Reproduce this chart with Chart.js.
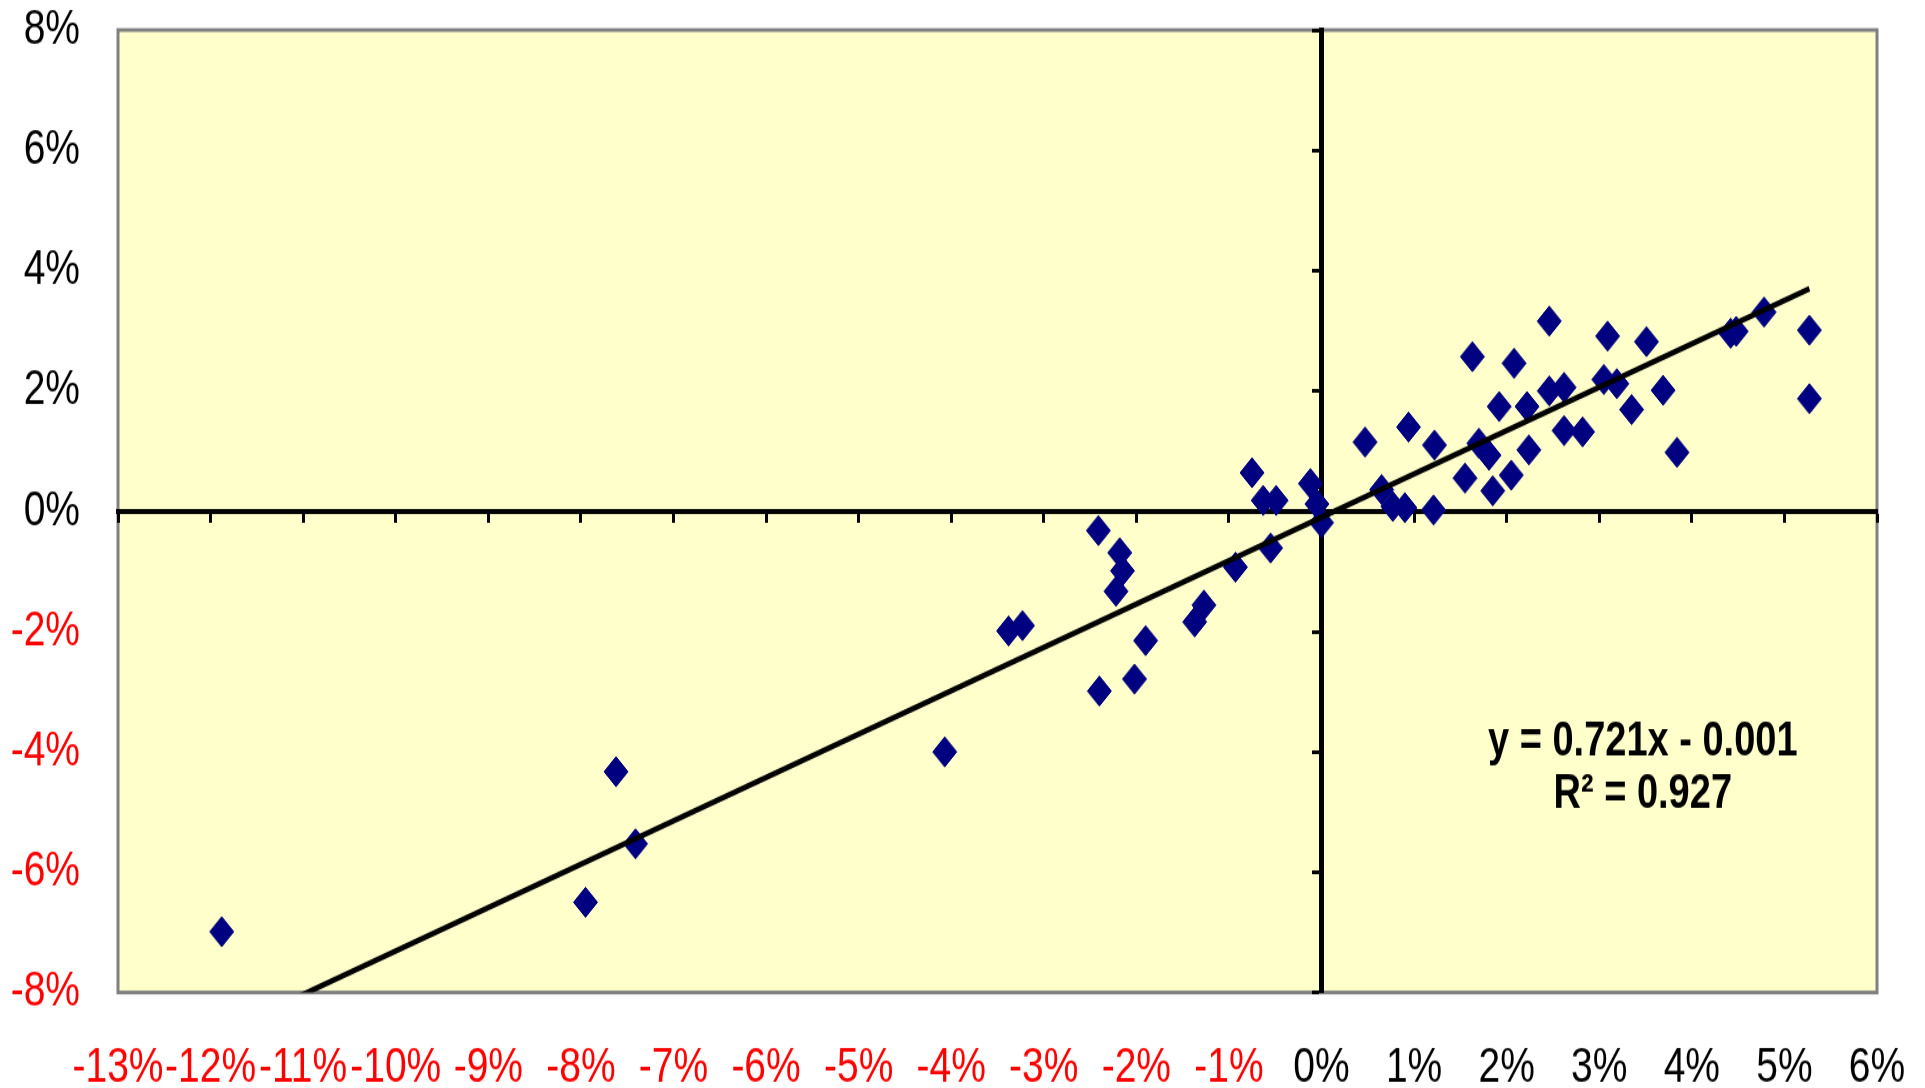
<!DOCTYPE html>
<html>
<head>
<meta charset="utf-8">
<script src="https://cdn.jsdelivr.net/npm/chart.js@4.4.1/dist/chart.umd.min.js"></script>
<style>
  html, body { margin: 0; padding: 0; background: #ffffff; }
</style>
</head>
<body>
<!-- drawn at 1925x870 and stretched to 1088 tall, like the original picture -->
<canvas id="chart" width="1925" height="870" style="width:1925px;height:1088px;display:block"></canvas>
<script>
// --------------------
// Data (percent)
// --------------------
const xReturns = [
  -11.88, -7.95, -7.62, -7.41, -4.07, -3.38, -3.23, -2.41, -2.40, -2.22,
  -2.18, -2.15, -2.02, -1.90, -1.37, -1.27, -0.93, -0.75, -0.63, -0.55,
  -0.49, -0.12, -0.05, 0.00, 0.47, 0.65, 0.77, 0.90, 0.94, 1.21,
  1.22, 1.55, 1.63, 1.70, 1.81, 1.85, 1.92, 2.05, 2.08, 2.22,
  2.24, 2.46, 2.46, 2.62, 2.62, 2.82, 3.05, 3.09, 3.19, 3.35,
  3.51, 3.69, 3.84, 4.42, 4.48, 4.78, 5.27, 5.27
];
const yReturns = [
  -6.99, -6.50, -4.33, -5.53, -4.00, -1.99, -1.90, -0.32, -2.99, -1.33,
  -0.69, -0.99, -2.79, -2.15, -1.84, -1.56, -0.93, 0.64, 0.18, -0.61,
  0.18, 0.46, 0.12, -0.19, 1.15, 0.36, 0.08, 0.06, 1.40, 0.02,
  1.10, 0.55, 2.57, 1.13, 0.93, 0.34, 1.74, 0.60, 2.46, 1.74,
  1.02, 3.16, 2.00, 2.06, 1.34, 1.32, 2.19, 2.91, 2.12, 1.69,
  2.82, 2.01, 0.98, 2.96, 2.99, 3.31, 3.01, 1.87
];

// trendline y = 0.721x - 0.001 (in percent units the intercept is -0.1)
const trendSlope = 0.721;
const trendIntercept = -0.1;
const trendLabel = ['y = 0.721x - 0.001', 'R\u00B2 = 0.927'];

const xRange = [-13, 6];
const yRange = [-8, 8];

// --------------------
// Styles
// --------------------
const FONT = '"Liberation Sans", Arial, sans-serif';
const PLOT_FILL = '#FFFFCC';
const PLOT_BORDER = '#808080';
const MARKER = '#000080';
const LABEL_POS = { x: 3.47, y: -3.83 };

const points = xReturns.map((x, i) => ({ x: x, y: yReturns[i] }));
const xMin = Math.min(...xReturns);
const xMax = Math.max(...xReturns);
const trendPoints = [
  { x: xMin, y: trendSlope * xMin + trendIntercept },
  { x: xMax, y: trendSlope * xMax + trendIntercept },
];

function tickColor(ctx) {
  return ctx.tick.value < 0 ? '#FF0000' : '#000000';
}

// labels may hang over the edges, the plot box is set by layout padding only
function noEdgePadding(s) {
  s.paddingTop = 0;
  s.paddingBottom = 0;
  s.paddingLeft = 0;
  s.paddingRight = 0;
}

const plotArea = {
  id: 'plotArea',
  beforeDraw(chart) {
    const { ctx, chartArea: a } = chart;
    ctx.save();
    ctx.fillStyle = PLOT_FILL;
    ctx.fillRect(a.left, a.top, a.width, a.height);
    ctx.strokeStyle = PLOT_BORDER;
    ctx.lineWidth = 3;
    ctx.strokeRect(a.left, a.top, a.width, a.height);
    ctx.restore();
  }
};

const equationLabel = {
  id: 'equationLabel',
  afterDatasetsDraw(chart) {
    const { ctx, scales } = chart;
    const px = scales.x.getPixelForValue(LABEL_POS.x);
    const py = scales.y.getPixelForValue(LABEL_POS.y);
    ctx.save();
    ctx.fillStyle = '#000000';
    ctx.font = 'bold 38px ' + FONT;
    ctx.textAlign = 'center';
    ctx.textBaseline = 'middle';
    trendLabel.forEach((line, i) => ctx.fillText(line, px, py + i * 42));
    ctx.restore();
  }
};

const chart = new Chart(document.getElementById('chart'), {
  type: 'scatter',
  data: {
    datasets: [
      {
        type: 'line',
        data: trendPoints,
        borderColor: '#000000',
        borderWidth: 4.5,
        pointRadius: 0,
        fill: false,
        order: 0,
      },
      {
        data: points,
        pointStyle: 'rectRot',
        pointRadius: 12,
        pointBorderWidth: 1,
        backgroundColor: MARKER,
        borderColor: MARKER,
        order: 1,
      }
    ]
  },
  options: {
    responsive: false,
    devicePixelRatio: 1,
    animation: false,
    layout: { padding: { top: 24, right: 48, left: 0, bottom: 0 } },
    plugins: {
      legend: { display: false },
      tooltip: { enabled: false },
    },
    scales: {
      x: {
        type: 'linear',
        position: 'bottom',
        min: xRange[0], max: xRange[1],
        afterFit: (s) => { s.height = 76.4; noEdgePadding(s); },
        grid: { display: false, drawTicks: false },
        border: { display: false },
        ticks: {
          stepSize: 1,
          autoSkip: false,
          maxRotation: 0,
          padding: 37,
          color: tickColor,
          font: { family: FONT, size: 39 },
          callback: (v) => v + '%',
        },
      },
      y: {
        type: 'linear',
        position: 'left',
        min: yRange[0], max: yRange[1],
        afterFit: (s) => { s.width = 118; noEdgePadding(s); },
        grid: { display: false, drawTicks: false },
        border: { display: false },
        ticks: {
          stepSize: 2,
          padding: 38,
          color: tickColor,
          font: { family: FONT, size: 39 },
          callback: (v) => v + '%',
        },
      },
      // axes crossing at zero
      x0: {
        type: 'linear',
        position: { y: 0 },
        min: xRange[0], max: xRange[1],
        grid: { drawOnChartArea: false, drawTicks: true, tickLength: 7, tickWidth: 3, tickColor: '#000000' },
        border: { color: '#000000', width: 4 },
        ticks: { stepSize: 1, display: false },
      },
      y0: {
        type: 'linear',
        position: { x: 0 },
        min: yRange[0], max: yRange[1],
        grid: { drawOnChartArea: false, drawTicks: true, tickLength: 7, tickWidth: 3, tickColor: '#000000' },
        border: { color: '#000000', width: 5 },
        ticks: { stepSize: 2, display: false },
      },
    },
  },
  plugins: [plotArea, equationLabel],
});
</script>
</body>
</html>
